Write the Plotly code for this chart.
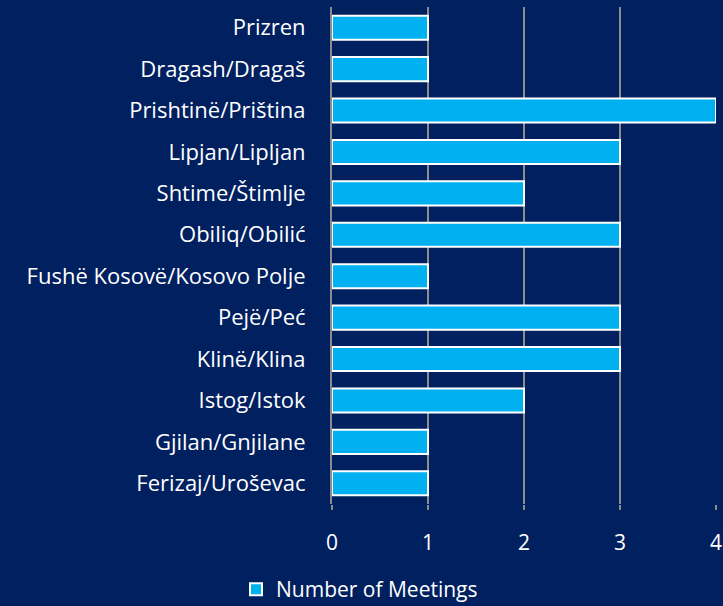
import plotly.graph_objects as go

# data, top to bottom
municipalities = [
    "Prizren",
    "Dragash/Dragaš",
    "Prishtinë/Priština",
    "Lipjan/Lipljan",
    "Shtime/Štimlje",
    "Obiliq/Obilić",
    "Fushë Kosovë/Kosovo Polje",
    "Pejë/Peć",
    "Klinë/Klina",
    "Istog/Istok",
    "Gjilan/Gnjilane",
    "Ferizaj/Uroševac",
]
meetings = [1, 1, 4, 3, 2, 3, 1, 3, 3, 2, 1, 1]
x_ticks = [0, 1, 2, 3, 4]

bg = "#002060"
bar_color = "#00B0F0"
grid_color = "#8C8C8C"

fig = go.Figure()
fig.add_trace(go.Bar(
    x=meetings,
    y=municipalities,
    orientation="h",
    name="Number of Meetings",
    width=0.58,
    marker=dict(color=bar_color, line=dict(color="white", width=2)),
))

fig.update_layout(
    width=723,
    height=606,
    paper_bgcolor=bg,
    plot_bgcolor=bg,
    font=dict(family="Open Sans, sans-serif", size=19, color="white"),
    margin=dict(l=332, r=7, t=7, b=102, autoexpand=False),
    showlegend=True,
    legend=dict(
        orientation="h",
        x=-0.25, xanchor="left",
        y=-0.172, yanchor="middle",
        font=dict(size=21, color="white"),
        bgcolor="rgba(0,0,0,0)",
    ),
)

fig.update_xaxes(
    range=[0, 4],
    tickvals=x_ticks,
    showgrid=True,
    gridcolor=grid_color,
    gridwidth=2,
    zeroline=False,
    showline=False,
    ticks="outside",
    ticklen=5,
    tickcolor=grid_color,
    tickwidth=2,
    ticklabelstandoff=15,
    tickfont=dict(size=21),
    automargin=False,
)
fig.update_yaxes(
    categoryorder="array",
    categoryarray=municipalities[::-1],
    showgrid=False,
    zeroline=False,
    showline=True,
    linecolor=grid_color,
    linewidth=2,
    ticks="",
    ticklabelstandoff=20,
    tickfont=dict(size=22),
    automargin=False,
)

fig.write_html(
    "out.html",
    config={"displayModeBar": False},
    post_script="document.body.style.margin='0';",
)
